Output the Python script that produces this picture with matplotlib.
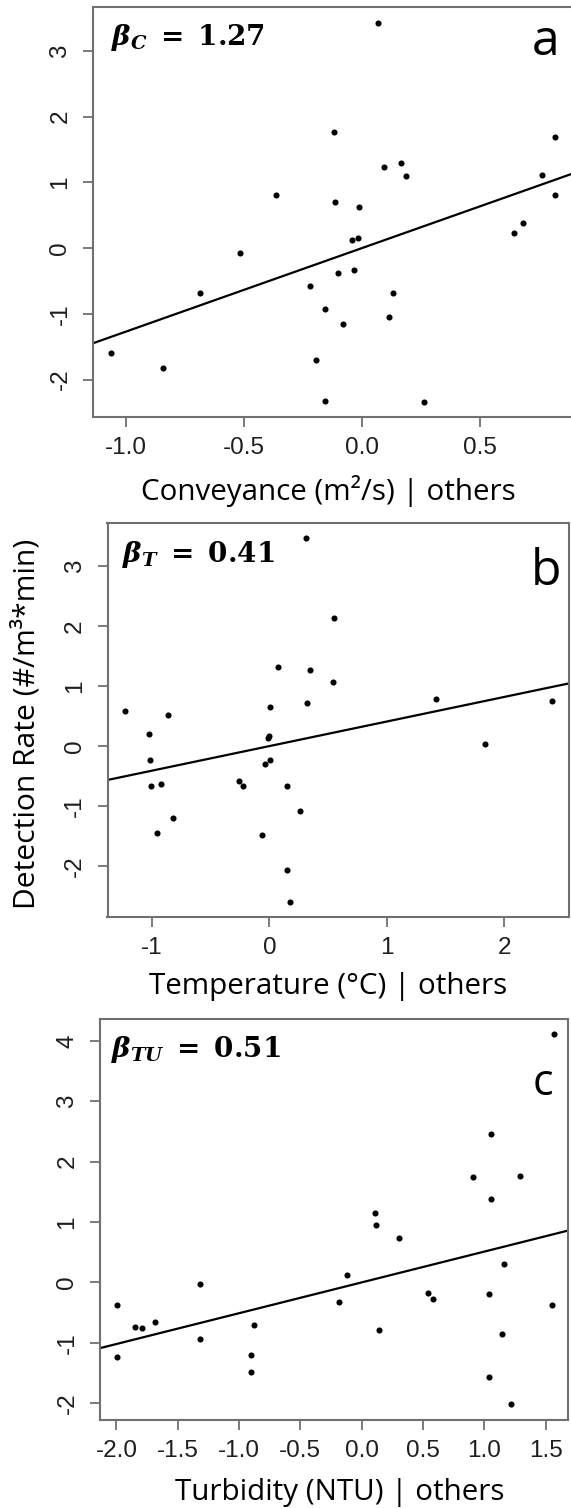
import matplotlib
matplotlib.use("Agg")
import matplotlib.pyplot as plt
import numpy as np

plt.rcParams['axes.unicode_minus'] = False
plt.rcParams['mathtext.fontset'] = 'custom'
plt.rcParams['mathtext.rm'] = 'DejaVu Serif:bold'
plt.rcParams['mathtext.it'] = 'DejaVu Serif:bold:italic'
plt.rcParams['mathtext.bf'] = 'DejaVu Serif:bold'

# ---------------- data ----------------
# Panel a: Conveyance
conv_x = [0.07, -0.12, 0.096, 0.167, 0.188, 0.821, 0.762, 0.821, -0.364, -0.113,
          -0.011, 0.644, 0.682, -0.043, -0.015, -0.517, -0.10, -0.034, -0.22, -0.688,
          0.133, -0.156, 0.116, -0.082, -1.062, -0.842, -0.193, -0.156, 0.265]
conv_y = [3.43, 1.76, 1.24, 1.29, 1.10, 1.69, 1.12, 0.81, 0.81, 0.70,
          0.62, 0.23, 0.39, 0.12, 0.15, -0.08, -0.385, -0.33, -0.58, -0.68,
          -0.69, -0.93, -1.045, -1.16, -1.60, -1.82, -1.705, -2.32, -2.34]
conv_slope, conv_icpt = 1.27, 0.0

# Panel b: Temperature
temp_x = [0.312, 0.548, 0.074, 0.346, 0.538, 0.322, 0.009, -1.228, -0.866, -1.022,
          0.0, -0.01, 1.419, 2.404, 1.834, -1.016, -0.038, 0.005, -0.261, -0.227,
          -1.005, -0.92, 0.148, 0.26, -0.816, -0.952, -0.066, 0.148, 0.179]
temp_y = [3.46, 2.14, 1.31, 1.27, 1.06, 0.72, 0.655, 0.58, 0.51, 0.205,
          0.17, 0.13, 0.78, 0.755, 0.03, -0.24, -0.30, -0.23, -0.58, -0.66,
          -0.67, -0.64, -0.66, -1.08, -1.195, -1.44, -1.48, -2.07, -2.60]
temp_slope, temp_icpt = 0.41, 0.0

# Panel c: Turbidity
turb_x = [1.572, 1.055, 0.912, 1.289, 1.055, 0.11, 0.119, 0.303, 1.159, -0.122,
          -1.317, -1.996, -0.184, 0.541, 0.58, 1.037, 1.553, -1.851, -1.791, -1.687,
          -0.882, -1.317, 0.14, 1.147, -1.996, -0.906, -0.902, 1.037, 1.222]
turb_y = [4.12, 2.45, 1.75, 1.77, 1.375, 1.15, 0.945, 0.74, 0.305, 0.12,
          -0.02, -0.37, -0.33, -0.17, -0.27, -0.19, -0.37, -0.74, -0.76, -0.66,
          -0.70, -0.93, -0.785, -0.85, -1.24, -1.20, -1.48, -1.57, -2.02]
turb_slope, turb_icpt = 0.51, 0.0

conv_xticks = [-1.0, -0.5, 0.0, 0.5]
conv_yticks = [-2, -1, 0, 1, 2, 3]
temp_xticks = [-1, 0, 1, 2]
temp_yticks = [-2, -1, 0, 1, 2, 3]
turb_xticks = [-2.0, -1.5, -1.0, -0.5, 0.0, 0.5, 1.0, 1.5]
turb_yticks = [-2, -1, 0, 1, 2, 3, 4]

W, H = 571, 1508
fig = plt.figure(figsize=(W / 100, H / 100), dpi=100)

def px_axes(left, right, top, bottom):
    return [left / W, 1 - bottom / H, (right - left) / W, (bottom - top) / H]

TICKFS = 17.5
spine_col = '#707070'

def panel(rect, x, y, slope, icpt, xlim, ylim, xticks, yticks, xfmt):
    ax = fig.add_axes(rect)
    ax.set_xlim(*xlim)
    ax.set_ylim(*ylim)
    xs = np.array(xlim)
    ax.plot(xs, slope * xs + icpt, color='black', lw=1.6, zorder=2)
    ax.plot(x, y, 'o', color='black', ms=4.4, mew=0, zorder=3)
    ax.set_xticks(xticks)
    ax.set_xticklabels([xfmt.format(v) for v in xticks])
    ax.set_yticks(yticks)
    ax.set_yticklabels([str(v) for v in yticks], rotation=90, va='center')
    ax.tick_params(length=7.5, width=1.3, color=spine_col, labelsize=TICKFS,
                   labelcolor='#1e1e1e', pad=7)
    ax.tick_params(axis='y', pad=8)
    for s in ax.spines.values():
        s.set_color(spine_col)
        s.set_linewidth(1.5)
    for lab in ax.get_xticklabels() + ax.get_yticklabels():
        lab.set_family('Liberation Sans')
    return ax

# panel a (right side runs past the image edge)
ax_a = panel(px_axes(93, 580, 7, 417), conv_x, conv_y, conv_slope, conv_icpt,
             (-1.14, 0.925), (-2.57, 3.67), conv_xticks, conv_yticks, '{:.1f}')
ax_b = panel(px_axes(107.5, 568.5, 523.5, 916.5), temp_x, temp_y, temp_slope, temp_icpt,
             (-1.377, 2.545), (-2.84, 3.71), temp_xticks, temp_yticks, '{:d}')
ax_c = panel(px_axes(100, 568, 1018.5, 1419.5), turb_x, turb_y, turb_slope, turb_icpt,
             (-2.134, 1.683), (-2.27, 4.37), turb_xticks, turb_yticks, '{:.1f}')

LBL = 'Open Sans'
LBLFS = 21.3

def ftext(xp, yp, s, **kw):
    fig.text(xp / W, 1 - yp / H, s, **kw)

# axis titles
ftext(328, 500, 'Conveyance (m\u00b2/s) | others', ha='center', va='baseline',
      family=LBL, fontsize=LBLFS)
ftext(328, 994, 'Temperature (\u00b0C) | others', ha='center', va='baseline',
      family=LBL, fontsize=LBLFS)
ftext(340, 1500, 'Turbidity (NTU) | others', ha='center', va='baseline',
      family=LBL, fontsize=LBLFS)
ftext(27, 724, 'Detection Rate (#/m\u00b3*min)', ha='center', va='center',
      rotation=90, family=LBL, fontsize=LBLFS + 0.3)

# coefficient annotations
BFS = 20
ftext(111, 45, r'$\beta_C\;=\;1.27$', ha='left', va='baseline', fontsize=BFS)
ftext(122, 562, r'$\beta_T\;=\;0.41$', ha='left', va='baseline', fontsize=BFS)
ftext(111, 1057, r'$\beta_{TU}\;=\;0.51$', ha='left', va='baseline', fontsize=BFS)

# panel letters
ftext(546, 55, 'a', ha='center', va='baseline', family=LBL, fontsize=36)
ftext(546, 585, 'b', ha='center', va='baseline', family=LBL, fontsize=36)
ftext(543, 1095, 'c', ha='center', va='baseline', family=LBL, fontsize=31)

fig.savefig('out.png', dpi=100)
